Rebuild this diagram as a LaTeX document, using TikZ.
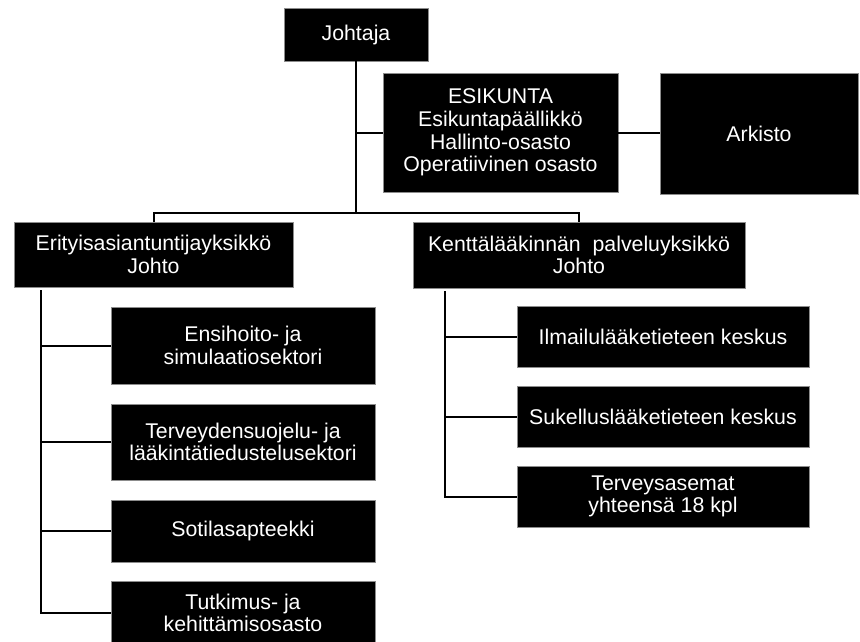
\documentclass[tikz,border=0pt]{standalone}
\usepackage{fontspec}
\setmainfont{Liberation Sans}
\begin{document}
\begin{tikzpicture}[x=1pt,y=-1pt,
  box/.style={draw=black!45, line width=0.8pt, fill=black, text=white, align=center,
    inner sep=0pt, font=\fontsize{21.3}{22.6}\selectfont},
  conn/.style={draw=black, line width=2pt}]
\useasboundingbox (0,0) rectangle (860,642);
\node[box, minimum width=144, minimum height=53] (J) at (356,34.5) {Johtaja};
\node[box, minimum width=235, minimum height=119] (E) at (500.5,132.5) {ESIKUNTA\\Esikuntapäällikkö\\Hallinto-osasto\\Operatiivinen osasto};
\node[box, minimum width=198, minimum height=121] (A) at (759,133.5) {Arkisto};
\node[box, minimum width=279, minimum height=65] (L) at (153.5,254.5) {Erityisasiantuntijayksikkö\\Johto};
\node[box, minimum width=332, minimum height=66] (R) at (579,255) {Kenttälääkinnän\ \ palveluyksikkö\\Johto};
\node[box, minimum width=264, minimum height=77] (c1) at (243,345.5) {Ensihoito- ja\\simulaatiosektori};
\node[box, minimum width=264, minimum height=76] (c2) at (243,442) {Terveydensuojelu- ja\\lääkintätiedustelusektori};
\node[box, minimum width=264, minimum height=62] (c3) at (243,531) {Sotilasapteekki};
\node[box, minimum width=264, minimum height=64] (c4) at (243,613) {Tutkimus- ja\\kehittämisosasto};
\node[box, minimum width=292, minimum height=61] (d1) at (663,336.5) {Ilmailulääketieteen keskus};
\node[box, minimum width=292, minimum height=61] (d2) at (663,416.5) {Sukelluslääketieteen keskus};
\node[box, minimum width=292, minimum height=61] (d3) at (663,496.5) {Terveysasemat\\yhteensä 18 kpl};
\coordinate (bus) at (356,213);
\coordinate (lt) at (41,290);
\coordinate (rt) at (445,291);
\draw[conn] (J.south) -- (bus);
\draw[conn] (bus |- E.west) -- (E.west);
\draw[conn] (E.east) -- (E.east -| A.west);
\draw[conn] (L.north) |- (bus) -| (R.north);
\draw[conn] (lt) |- (c4.west);
\draw[conn] (lt |- c1.west) -- (c1.west);
\draw[conn] (lt |- c2.west) -- (c2.west);
\draw[conn] (lt |- c3.west) -- (c3.west);
\draw[conn] (rt) |- (d3.west);
\draw[conn] (rt |- d1.west) -- (d1.west);
\draw[conn] (rt |- d2.west) -- (d2.west);
\end{tikzpicture}
\end{document}
